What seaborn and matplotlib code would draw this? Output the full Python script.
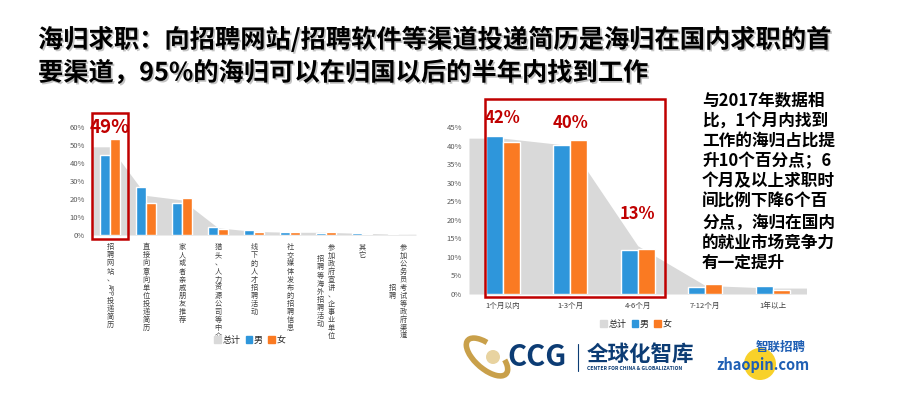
import re
import numpy as np
import pandas as pd
import seaborn as sns
import matplotlib.pyplot as plt
import matplotlib.patheffects as pe
from matplotlib.patches import Rectangle, Patch, Ellipse, Arc

# 数据
channels = ['招聘网站、APP投递简历', '直接向意向单位投递简历', '家人或者亲戚朋友推荐',
            '猎头、人力资源公司等中介', '线下的人才招聘活动', '社交媒体发布的招聘信息',
            '参加政府宣讲、企事业单位招聘等海外招聘活动', '其它', '参加公务员考试等政府渠道招聘']
channel_total = [49, 22, 19.5, 4, 2, 1.5, 1.5, 0.9, 0.4]
channel_male = [44.5, 26.5, 17.5, 4.5, 2.8, 1.7, 1.3, 1.1, 0.6]
channel_female = [53.2, 17.8, 20.6, 3.5, 1.5, 1.7, 1.7, 0.7, 0.2]

periods = ['1个月以内', '1-3个月', '4-6个月', '7-12个月', '1年以上']
period_total = [42, 40, 13, 2.3, 1.6]
period_male = [42.6, 40.1, 11.8, 1.8, 2.1]
period_female = [40.9, 41.5, 12.2, 2.8, 1.0]

left_ticks = [0, 10, 20, 30, 40, 50, 60]
right_ticks = [0, 5, 10, 15, 20, 25, 30, 35, 40, 45]

title_lines = ['海归求职：向招聘网站/招聘软件等渠道投递简历是海归在国内求职的首',
               '要渠道，95%的海归可以在归国以后的半年内找到工作']
note_lines = ['与2017年数据相', '比，1个月内找到', '工作的海归占比提', '升10个百分点；6',
              '个月及以上求职时', '间比例下降6个百', '分点，海归在国内', '的就业市场竞争力', '有一定提升']

GRAY = '#d9d9d9'
BLUE = '#2e96db'
ORANGE = '#fa7a22'
RED = '#c00000'

sns.set_style('white')
plt.rcParams['font.family'] = ['Noto Sans CJK SC', 'DejaVu Sans']

W, H = 921, 416
fig = plt.figure(figsize=(W / 100, H / 100), dpi=100)


def px_box(x0, y_top, x1, y_bottom):
    return [x0 / W, 1 - y_bottom / H, (x1 - x0) / W, (y_bottom - y_top) / H]


def draw_panel(ax, cats, total, male, female, ticks, bar_width):
    n = len(cats)
    df = pd.DataFrame({'cat': cats * 2,
                       'val': male + female,
                       'sex': ['男'] * n + ['女'] * n})
    # 总计 area behind the bars, flat to the plot edges like Excel
    xs = np.r_[-0.5, np.arange(n), n - 0.5]
    ys = np.r_[total[0], total, total[-1]]
    ax.fill_between(xs, ys, color=GRAY, lw=0, zorder=0)
    sns.barplot(data=df, x='cat', y='val', hue='sex', palette=[BLUE, ORANGE],
                width=bar_width, gap=0, errorbar=None, saturation=1,
                legend=False, ax=ax, zorder=2)
    ax.axhline(0, color=GRAY, lw=0.8, zorder=1)
    ax.set_xlim(-0.5, n - 0.5)
    ax.set_ylim(0, ticks[-1])
    ax.set_yticks(ticks)
    ax.set_yticklabels([f'{t}%' for t in ticks])
    ax.set_xlabel('')
    ax.set_ylabel('')
    ax.tick_params(axis='both', length=0, labelsize=5.5, labelcolor='#595959', pad=5)
    sns.despine(ax=ax, left=True, bottom=True)
    ax.patch.set_alpha(0)


# 左图
ax1 = fig.add_axes(px_box(92, 127, 416, 235))
draw_panel(ax1, channels, channel_total, channel_male, channel_female, left_ticks, 0.55)
ax1.set_xticks([])

# vertical stacked category labels (12 chars per column, columns right to left,
# latin runs such as APP are turned sideways)
pitch = 5.8
for i, lab in enumerate(channels):
    cols = [lab[k:k + 12] for k in range(0, len(lab), 12)]
    nmax = max(len(c) for c in cols)
    ncol = len(cols)
    for c, col in enumerate(cols):
        dx = ((ncol - 1) / 2 - c) * 8
        pos = (nmax - len(col)) / 2 * pitch
        for tok in re.findall(r'[A-Za-z]+|.', col):
            latin = tok.isascii()
            size = len(tok) * 0.55 * pitch if latin else pitch
            ax1.annotate(tok, xy=(i, 0), xycoords=('data', 'axes fraction'),
                         xytext=(dx, -6 - pos - size / 2), textcoords='offset points',
                         ha='center', va='center', fontsize=4.6 if latin else 5.2,
                         rotation=-90 if latin else 0, color='#404040')
            pos += size

ax1.add_patch(Rectangle((-0.5, -2.2), 1.0, 70, fill=False, ec=RED, lw=1.8,
                        clip_on=False, zorder=5))
ax1.text(0, 59.5, f'{channel_total[0]:.0f}%', ha='center', va='center', fontsize=13.5,
         weight='bold', color=RED, zorder=6, clip_on=False)

# 右图
ax2 = fig.add_axes(px_box(469, 127, 806.5, 294))
draw_panel(ax2, periods, period_total, period_male, period_female, right_ticks, 0.5)
ax2.tick_params(axis='x', labelsize=5.5, labelcolor='#404040', pad=6)

ax2.add_patch(Rectangle((-0.26, -0.8), 2.67, 53.3, fill=False, ec=RED, lw=1.8,
                        clip_on=False, zorder=5))
for i, dy in zip(range(3), [5.5, 6.2, 8.5]):
    ax2.text(i, period_total[i] + dy, f'{period_total[i]:.0f}%', ha='center', va='center',
             fontsize=12, weight='bold', color=RED, zorder=6, clip_on=False)

# legends
handles = [Patch(color=GRAY, label='总计'), Patch(color=BLUE, label='男'),
           Patch(color=ORANGE, label='女')]
for cx, cy in [(250, 340), (636, 324)]:
    fig.legend(handles=handles, loc='center', bbox_to_anchor=(cx / W, 1 - cy / H), ncol=3,
               frameon=False, fontsize=6.5, handlelength=0.7, handleheight=0.7,
               handletextpad=0.2, columnspacing=0.6, borderpad=0)

# 标题
shadow = [pe.SimplePatchShadow(offset=(1.2, -1.2), shadow_rgbFace='#888888', alpha=0.5), pe.Normal()]
for j, line in enumerate(title_lines):
    fig.text(38 / W, 1 - (40 + 33 * j) / H, line, ha='left', va='center', fontsize=18.2,
             weight='bold', color='black', path_effects=shadow)

# 右侧说明
for j, line in enumerate(note_lines):
    fig.text(702 / W, 1 - (100 + 20.4 * j) / H, line, ha='left', va='center', fontsize=12,
             weight='bold', color='black')

# logos (approximated)
fig.add_artist(Arc((487 / W, 1 - 357 / H), 30 / W, 40 / H, angle=20, theta1=70, theta2=320,
                   lw=4, color='#c9a04a', transform=fig.transFigure))
fig.add_artist(Ellipse((493 / W, 1 - 357 / H), 14 / W, 14 / H, fc='#e8d3a0', ec='none',
                       transform=fig.transFigure))
fig.text(507 / W, 1 - 357 / H, 'CCG', ha='left', va='center', fontsize=21, weight='heavy',
         color='#0c3c74')
fig.add_artist(plt.Line2D([578 / W, 578 / W], [1 - 344 / H, 1 - 371 / H], color='#0c3c74',
                          lw=0.8, transform=fig.transFigure))
fig.text(587 / W, 1 - 354 / H, '全球化智库', ha='left', va='center', fontsize=15.5,
         weight='bold', color='#0c3c74')
fig.text(587 / W, 1 - 368 / H, 'CENTER FOR CHINA & GLOBALIZATION', ha='left', va='center',
         fontsize=3.6, weight='bold', color='#0c3c74')
fig.add_artist(Ellipse((760 / W, 1 - 364 / H), 32 / W, 32 / H, fc='#f8d12a', ec='none',
                       transform=fig.transFigure))
fig.text(756 / W, 1 - 347 / H, '智联招聘', ha='left', va='center', fontsize=9,
         weight='bold', color='#1f5fb4', style='italic')
fig.text(716 / W, 1 - 365 / H, 'zhaopin.com', ha='left', va='center', fontsize=10.5,
         weight='bold', color='#1f5fb4')

fig.savefig('out.png', dpi=100, facecolor='white')
